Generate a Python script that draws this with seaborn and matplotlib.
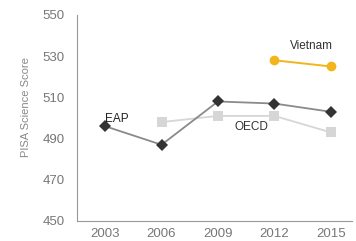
import matplotlib
matplotlib.use("Agg")
import matplotlib.pyplot as plt
import seaborn as sns
import pandas as pd

years = [2003, 2006, 2009, 2012, 2015]
eap = [496, 487, 508, 507, 503]
oecd_years = [2006, 2009, 2012, 2015]
oecd = [498, 501, 501, 493]
vn_years = [2012, 2015]
vietnam = [528, 525]

sns.set_style("white")
plt.rcParams['font.family'] = ['Liberation Sans', 'DejaVu Sans']

fig = plt.figure(figsize=(3.56, 2.41), dpi=100)
ax = fig.add_axes([0.216, 0.083, 0.774, 0.855])

df_oecd = pd.DataFrame({"year": oecd_years, "score": oecd})
df_eap = pd.DataFrame({"year": years, "score": eap})
df_vn = pd.DataFrame({"year": vn_years, "score": vietnam})

sns.lineplot(data=df_oecd, x="year", y="score", ax=ax, color="#d6d6d6", lw=1.3,
             marker="s", markersize=7, markeredgewidth=0)
sns.lineplot(data=df_eap, x="year", y="score", ax=ax, color="#8a8a8a", lw=1.3,
             marker="D", markersize=6, markerfacecolor="#333333", markeredgewidth=0)
sns.lineplot(data=df_vn, x="year", y="score", ax=ax, color="#f2b51c", lw=1.4,
             marker="o", markersize=7, markeredgewidth=0)

ax.text(2003.0, 499.5, "EAP", fontsize=8.5, color="#222222", va="center")
ax.text(2009.9, 495.6, "OECD", fontsize=8.5, color="#333333", va="center")
ax.text(2012.85, 535, "Vietnam", fontsize=8.5, color="#333333", va="center")

ax.set_xlim(2001.5, 2016.15)
ax.set_ylim(450, 550)
ax.set_xticks(years)
ax.set_yticks([450, 470, 490, 510, 530, 550])
ax.set_xlabel("")
ax.set_ylabel("PISA Science Score", fontsize=8, color="#888888")
ax.yaxis.set_label_coords(-0.165, 0.553)
ax.tick_params(axis="x", length=0, labelsize=9.5, colors="#777777", pad=5)
ax.tick_params(axis="y", length=0, labelsize=9.5, colors="#777777", pad=9)
for s in ["top", "right"]:
    ax.spines[s].set_visible(False)
for s in ["left", "bottom"]:
    ax.spines[s].set_color("#999999")
    ax.spines[s].set_linewidth(0.8)

fig.savefig("out.png", dpi=100)
